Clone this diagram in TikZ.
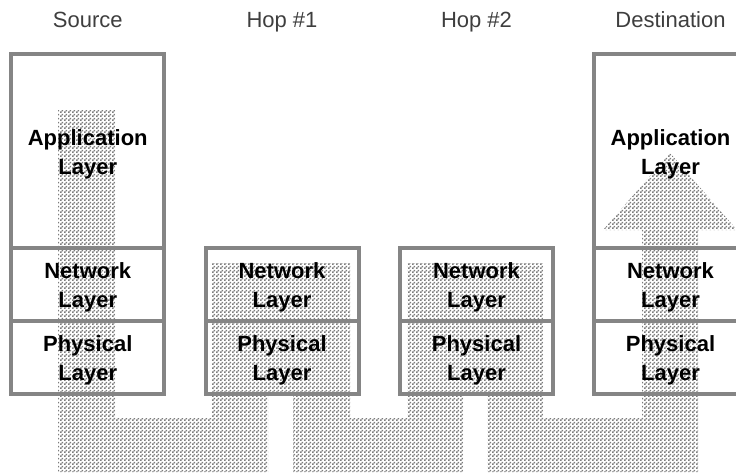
\documentclass[tikz,border=0pt]{standalone}
\usepackage{fontspec}
\setmainfont{Liberation Sans}
\usetikzlibrary{patterns.meta}

\definecolor{boxgray}{HTML}{858585}
\definecolor{dotgray}{HTML}{7C7C7C}
\definecolor{headgray}{HTML}{3E3E3E}

% fine checkerboard stipple used for the data path
\pgfdeclarepattern{
  name=stipple,
  type=uncolored,
  bottom left={\pgfpoint{0pt}{0pt}},
  top right={\pgfpoint{4pt}{4pt}},
  tile size={\pgfpoint{4pt}{4pt}},
  code={
    \pgfpathrectangle{\pgfpoint{0pt}{0pt}}{\pgfpoint{2pt}{2pt}}
    \pgfpathrectangle{\pgfpoint{2pt}{2pt}}{\pgfpoint{2pt}{2pt}}
    \pgfusepath{fill}
  }
}

% two-line layer label, nudged slightly below the box centre
\newcommand{\twolines}[2]{\rule{0pt}{23pt}#1\\#2}

\tikzset{
  layer/.style={draw=boxgray, line width=4pt, minimum width=153pt,
    inner sep=0pt, align=center, text=black,
    font=\bfseries\fontsize{22}{29}\selectfont},
  header/.style={anchor=base, text=headgray,
    font=\fontsize{22}{26}\selectfont},
  datapath/.style={pattern=stipple, pattern color=dotgray}
}

\begin{document}
\begin{tikzpicture}[x=1pt,y=-1pt]
\useasboundingbox (0,0) rectangle (736,472);
\clip (0,0) rectangle (736,472);

% path taken by the data: down the source stack, up and down through
% each hop, and up into the destination's application layer
\fill[datapath]
  (58,110) -- (115,110) -- (115,418) -- (212,418) -- (212,263)
  -- (350,263) -- (350,418) -- (407,418) -- (407,263)
  -- (543,263) -- (543,418) -- (642,418) -- (642,230)
  -- (603,230) -- (670,153) -- (737,230) -- (698,230)
  -- (698,472) -- (487,472) -- (487,394) -- (463,394)
  -- (463,472) -- (293,472) -- (293,394) -- (268,394)
  -- (268,472) -- (58,472) -- cycle;

% column headings
\node[header] (hsrc) at (87.75,27) {Source};
\node[header] (hhop1) at (282,27) {Hop \#1};
\node[header] (hhop2) at (476.5,27) {Hop \#2};
\node[header] (hdst) at (670.5,27) {Destination};

% source stack
\node[layer, minimum height=193.5pt] (srcapp) at (87.75,150.75) {\twolines{Application}{Layer}};
\node[layer, minimum height=73pt] (srcnet) at (87.75,284) {\twolines{Network}{Layer}};
\node[layer, minimum height=73.5pt] (srcphy) at (87.75,357.25) {\twolines{Physical}{Layer}};

% first hop
\node[layer, minimum height=73pt] (h1net) at (282,284) {\twolines{Network}{Layer}};
\node[layer, minimum height=73.5pt] (h1phy) at (282,357.25) {\twolines{Physical}{Layer}};

% second hop
\node[layer, minimum height=73pt] (h2net) at (476.5,284) {\twolines{Network}{Layer}};
\node[layer, minimum height=73.5pt] (h2phy) at (476.5,357.25) {\twolines{Physical}{Layer}};

% destination stack
\node[layer, minimum height=193.5pt] (dstapp) at (670.5,150.75) {\twolines{Application}{Layer}};
\node[layer, minimum height=73pt] (dstnet) at (670.5,284) {\twolines{Network}{Layer}};
\node[layer, minimum height=73.5pt] (dstphy) at (670.5,357.25) {\twolines{Physical}{Layer}};
\end{tikzpicture}
\end{document}
